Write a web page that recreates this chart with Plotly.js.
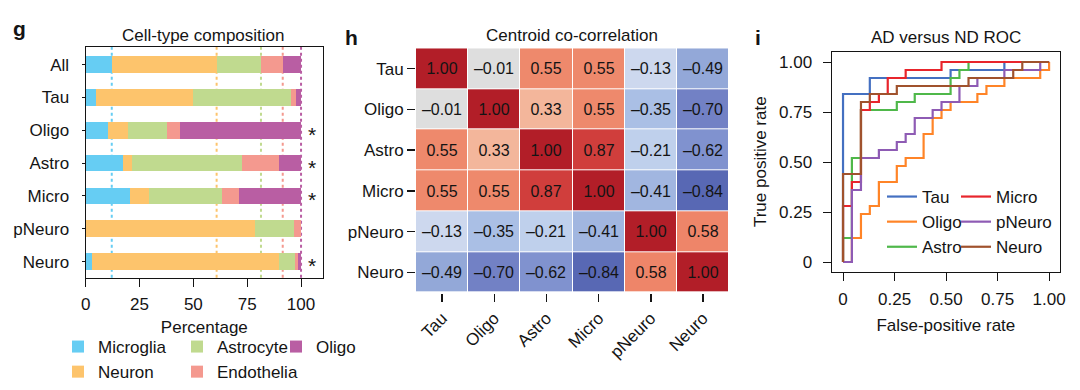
<!DOCTYPE html>
<html><head><meta charset="utf-8">
<script src="https://cdn.plot.ly/plotly-3.0.1.min.js"></script>
<style>html,body{margin:0;padding:0;background:#fff}#chart{width:1080px;height:390px}</style>
</head><body><div id="chart"></div>
<script>
// ---------- Panel g: cell-type composition (percent) ----------
const groups = ['All', 'Tau', 'Oligo', 'Astro', 'Micro', 'pNeuro', 'Neuro'];
const microglia  = [12.1, 4.6, 10.5, 17.5, 20.6, 0.0, 2.8];
const neuron     = [48.7, 45.4, 9.0, 3.9, 9.0, 78.6, 87.0];
const astrocyte  = [20.6, 45.4, 18.1, 51.1, 33.7, 18.3, 7.4];
const endothelia = [10.1, 2.3, 6.4, 17.4, 7.9, 3.1, 1.3];
const oligo      = [8.5, 2.3, 56.0, 10.1, 28.8, 0.0, 1.5];
const significant = [false, false, true, true, true, false, true];

// ---------- Panel h: centroid co-correlation ----------
const cellTypes  = ['Tau', 'Oligo', 'Astro', 'Micro', 'pNeuro', 'Neuro'];
const corrTau    = [1.00, -0.01, 0.55, 0.55, -0.13, -0.49];
const corrOligo  = [-0.01, 1.00, 0.33, 0.55, -0.35, -0.70];
const corrAstro  = [0.55, 0.33, 1.00, 0.87, -0.21, -0.62];
const corrMicro  = [0.55, 0.55, 0.87, 1.00, -0.41, -0.84];
const corrPNeuro = [-0.13, -0.35, -0.21, -0.41, 1.00, 0.58];
const corrNeuro  = [-0.49, -0.70, -0.62, -0.84, 0.58, 1.00];

// ---------- Panel i: AD vs ND ROC (step vertices) ----------
const rocTauFpr = [0, 0, 0.13, 0.13, 0.522, 0.522, 0.783, 0.783, 1];
const rocTauTpr = [0, 0.84, 0.84, 0.92, 0.92, 0.96, 0.96, 1, 1];
const rocOligoFpr = [0, 0.043, 0.043, 0.087, 0.087, 0.13, 0.13, 0.174, 0.174, 0.261, 0.261, 0.304, 0.304, 0.391, 0.391, 0.435, 0.435, 0.478, 0.478, 0.522, 0.522, 0.652, 0.652, 0.696, 0.696, 0.783, 0.783, 0.957, 0.957, 1, 1];
const rocOligoTpr = [0, 0, 0.12, 0.12, 0.24, 0.24, 0.28, 0.28, 0.40, 0.40, 0.48, 0.48, 0.52, 0.52, 0.64, 0.64, 0.72, 0.72, 0.76, 0.76, 0.80, 0.80, 0.84, 0.84, 0.88, 0.88, 0.92, 0.92, 0.96, 0.96, 1];
const rocAstroFpr = [0, 0, 0.043, 0.043, 0.087, 0.087, 0.261, 0.261, 0.348, 0.348, 0.522, 0.522, 0.565, 0.565, 0.609, 0.609, 1];
const rocAstroTpr = [0, 0.12, 0.12, 0.52, 0.52, 0.76, 0.76, 0.80, 0.80, 0.84, 0.84, 0.92, 0.92, 0.96, 0.96, 1, 1];
const rocMicroFpr = [0, 0, 0.043, 0.043, 0.087, 0.087, 0.13, 0.13, 0.174, 0.174, 0.217, 0.217, 0.304, 0.304, 0.478, 0.478, 1];
const rocMicroTpr = [0, 0.28, 0.28, 0.40, 0.40, 0.76, 0.76, 0.80, 0.80, 0.84, 0.84, 0.92, 0.92, 0.96, 0.96, 1, 1];
const rocPNeuroFpr = [0, 0.043, 0.043, 0.087, 0.087, 0.174, 0.174, 0.261, 0.261, 0.304, 0.304, 0.348, 0.348, 0.435, 0.435, 0.478, 0.478, 0.565, 0.565, 0.652, 0.652, 0.783, 0.783, 0.957, 0.957, 1];
const rocPNeuroTpr = [0, 0, 0.36, 0.36, 0.52, 0.52, 0.56, 0.56, 0.60, 0.60, 0.64, 0.64, 0.72, 0.72, 0.76, 0.76, 0.80, 0.80, 0.88, 0.88, 0.92, 0.92, 0.96, 0.96, 1, 1];
const rocNeuroFpr = [0, 0, 0.087, 0.087, 0.13, 0.13, 0.261, 0.261, 0.609, 0.609, 0.826, 0.826, 0.87, 0.87, 1];
const rocNeuroTpr = [0, 0.44, 0.44, 0.80, 0.80, 0.84, 0.84, 0.88, 0.88, 0.92, 0.92, 0.96, 0.96, 1, 1];

// ---------- styling ----------
const FONT = 'Liberation Sans, Arial, Helvetica, sans-serif';
const INK = '#141414';
const W = 1080, H = 390;
const px = v => v / W;
const py = v => 1 - v / H;

const barSeries = [
  {name: 'Microglia', vals: microglia, color: '#66CDF3', legend: 'legend'},
  {name: 'Neuron', vals: neuron, color: '#FDC46C', legend: 'legend'},
  {name: 'Astrocyte', vals: astrocyte, color: '#C0DA8F', legend: 'legend2'},
  {name: 'Endothelia', vals: endothelia, color: '#F4998F', legend: 'legend2'},
  {name: 'Oligo', vals: oligo, color: '#B95EA3', legend: 'legend3'}
];

const traces = [];
barSeries.forEach(s => {
  traces.push({
    type: 'bar', orientation: 'h', name: s.name, x: s.vals, y: groups,
    xaxis: 'x', yaxis: 'y', legend: s.legend,
    marker: {color: s.color, line: {width: 0}}, hoverinfo: 'x+name'
  });
});

// heatmap
const corr = [corrTau, corrOligo, corrAstro, corrMicro, corrPNeuro, corrNeuro];
const corrText = corr.map(r => r.map(v => (v < 0 ? '\u2013' : '') + Math.abs(v).toFixed(2)));
traces.push({
  type: 'heatmap', x: cellTypes, y: cellTypes, z: corr, text: corrText,
  texttemplate: '%{text}', textfont: {family: FONT, size: 16, color: INK},
  xaxis: 'x2', yaxis: 'y2', zmin: -1, zmax: 1, showscale: false, xgap: 1, ygap: 1,
  hoverinfo: 'skip',
  colorscale: [
    [0.0, 'rgb(62,80,160)'], [0.08, 'rgb(88,104,180)'], [0.15, 'rgb(114,129,197)'],
    [0.19, 'rgb(128,146,207)'], [0.255, 'rgb(147,168,216)'], [0.295, 'rgb(161,182,224)'],
    [0.325, 'rgb(170,191,229)'], [0.395, 'rgb(191,208,236)'], [0.435, 'rgb(205,216,238)'],
    [0.495, 'rgb(222,222,222)'], [0.665, 'rgb(243,182,155)'], [0.775, 'rgb(238,137,108)'],
    [0.79, 'rgb(238,133,105)'], [0.935, 'rgb(208,62,60)'], [1.0, 'rgb(178,30,40)']
  ]
});

// ROC
const rocSeries = [
  {name: 'Tau', x: rocTauFpr, y: rocTauTpr, color: '#4470C1', legend: 'legend4'},
  {name: 'Oligo', x: rocOligoFpr, y: rocOligoTpr, color: '#FF8427', legend: 'legend4'},
  {name: 'Astro', x: rocAstroFpr, y: rocAstroTpr, color: '#4FB84A', legend: 'legend4'},
  {name: 'Micro', x: rocMicroFpr, y: rocMicroTpr, color: '#E8252C', legend: 'legend5'},
  {name: 'pNeuro', x: rocPNeuroFpr, y: rocPNeuroTpr, color: '#8E5BB4', legend: 'legend5'},
  {name: 'Neuro', x: rocNeuroFpr, y: rocNeuroTpr, color: '#A0522D', legend: 'legend5'}
];
rocSeries.forEach(s => {
  traces.push({
    type: 'scatter', mode: 'lines', name: s.name, x: s.x, y: s.y,
    xaxis: 'x3', yaxis: 'y3', legend: s.legend,
    line: {color: s.color, width: 2.2}, hoverinfo: 'x+y+name'
  });
});

// dotted reference lines at cumulative "All" composition
const allIdx = groups.indexOf('All');
let cum = 0;
const shapes = barSeries.map(s => {
  cum += s.vals[allIdx];
  return {type: 'line', xref: 'x', yref: 'y domain', x0: cum, x1: cum, y0: 0, y1: 1,
          layer: 'below', line: {color: s.color, width: 2, dash: 'dot'}};
});

const annotations = [];
significant.forEach((sig, i) => {
  if (sig) annotations.push({xref: 'x', yref: 'y', x: 105, y: groups[i], text: '*',
    xanchor: 'center', yanchor: 'middle',
    showarrow: false, font: {family: FONT, size: 21, color: INK}, yshift: -4});
});
const titleFont = {family: FONT, size: 17, color: INK};
const letterFont = {family: FONT, size: 21, color: INK};
const paperNote = (x, y, text, font) => ({xref: 'paper', yref: 'paper', x: px(x), y: py(y), text: text,
  xanchor: 'center', yanchor: 'middle', showarrow: false, font: font});
annotations.push(
  paperNote(203, 35, 'Cell-type composition', titleFont),
  paperNote(572, 35, 'Centroid co-correlation', titleFont),
  paperNote(946, 38, 'AD versus ND ROC', titleFont),
  paperNote(19, 29, '<b>g</b>', letterFont),
  paperNote(351, 37, '<b>h</b>', letterFont),
  paperNote(758, 37, '<b>i</b>', letterFont)
);

const tickFont = {family: FONT, size: 17, color: INK};
const legendBase = {font: tickFont, bgcolor: 'rgba(0,0,0,0)', orientation: 'v', traceorder: 'normal',
                    xanchor: 'left', yanchor: 'top', itemclick: false, itemdoubleclick: false};

const layout = {
  width: W, height: H, margin: {l: 0, r: 0, t: 0, b: 0},
  paper_bgcolor: '#fff', plot_bgcolor: 'rgba(0,0,0,0)',
  font: {family: FONT, color: INK, size: 17},
  barmode: 'stack', bargap: 0.49, showlegend: true,
  xaxis: {domain: [px(85.7), px(323)], anchor: 'y', range: [0, 110.2], showline: true, mirror: true,
          linecolor: INK, linewidth: 1.2, ticks: 'outside', ticklen: 8, tickcolor: INK,
          tickvals: [0, 25, 50, 75, 100], showgrid: false, zeroline: false, tickfont: tickFont,
          ticklabelstandoff: 3,
          title: {text: 'Percentage', font: tickFont, standoff: 7}},
  yaxis: {domain: [py(277.7), py(47)], anchor: 'x', range: [6.49, -0.535], showline: true, mirror: true,
          linecolor: INK, linewidth: 1.2, ticks: 'outside', ticklen: 3, tickcolor: INK,
          ticklabelstandoff: 9,
          showgrid: false, zeroline: false, tickfont: tickFont},
  xaxis2: {domain: [px(416), px(729)], anchor: 'y2', tickangle: -45, ticks: 'outside', ticklen: 8,
           tickcolor: INK, tickwidth: 1.5, showline: false, showgrid: false, zeroline: false, tickfont: tickFont},
  yaxis2: {domain: [py(292.7), py(48.3)], anchor: 'x2', autorange: 'reversed', ticks: 'outside', ticklen: 8,
           tickcolor: INK, tickwidth: 1.5, showline: false, showgrid: false, zeroline: false, tickfont: tickFont},
  xaxis3: {domain: [px(831.7), px(1060)], anchor: 'y3', range: [-0.055, 1.053], showline: true, mirror: true,
           linecolor: INK, linewidth: 1.2, ticks: 'outside', ticklen: 8, tickcolor: INK,
           tickvals: [0, 0.25, 0.5, 0.75, 1], ticktext: ['0', '0.25', '0.50', '0.75', '1.00'],
           showgrid: false, zeroline: false, tickfont: tickFont, ticklabelstandoff: 4,
           title: {text: 'False-positive rate', font: tickFont, standoff: 10}},
  yaxis3: {domain: [py(271.7), py(51.7)], anchor: 'x3', range: [-0.0485, 1.0515], showline: true, mirror: true,
           linecolor: INK, linewidth: 1.2, ticks: 'outside', ticklen: 8, tickcolor: INK,
           tickvals: [0, 0.25, 0.5, 0.75, 1], ticktext: ['0', '0.25', '0.50', '0.75', '1.00'],
           showgrid: false, zeroline: false, tickfont: tickFont, ticklabelstandoff: 7,
           title: {text: 'True positive rate', font: tickFont, standoff: 8}},
  legend: Object.assign({}, legendBase, {x: px(58), y: py(329)}),
  legend2: Object.assign({}, legendBase, {x: px(177), y: py(329)}),
  legend3: Object.assign({}, legendBase, {x: px(276), y: py(329)}),
  legend4: Object.assign({}, legendBase, {x: px(882), y: py(179)}),
  legend5: Object.assign({}, legendBase, {x: px(956), y: py(179)}),
  shapes: shapes,
  annotations: annotations
};

Plotly.newPlot('chart', traces, layout, {displayModeBar: false, staticPlot: true});
</script>
</body></html>
